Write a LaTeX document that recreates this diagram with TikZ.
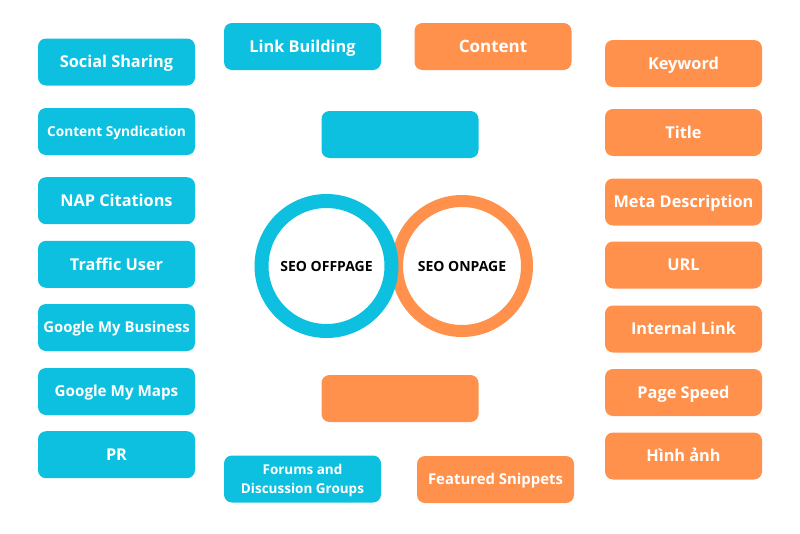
\documentclass[tikz,border=0pt]{standalone}
\usepackage{fontspec}
\setsansfont{Open Sans}
\usetikzlibrary{positioning}
\definecolor{offblue}{HTML}{0EC0DF}
\definecolor{onorange}{HTML}{FF914D}
\tikzset{
  tag/.style={rounded corners=8pt, minimum width=157pt, minimum height=47pt, inner sep=2pt, align=center, text=white, font=\sffamily\bfseries\fontsize{16.3}{20}\selectfont, text height=11.6pt, text depth=0pt},
  offtag/.style={tag, fill=offblue},
  ontag/.style={tag, fill=onorange},
  ring/.style={circle, minimum size=130pt, fill=white, font=\sffamily\bfseries\fontsize{14}{17}\selectfont, text height=10pt, text depth=0pt}
}
\begin{document}
\begin{tikzpicture}[x=1pt, y=-1pt]
\useasboundingbox (0,0) rectangle (800,533);
% rings
\node[ring, draw=onorange, line width=12pt] (onpage) at (462,266) {SEO ONPAGE};
\node[ring, draw=offblue, line width=14pt] (offpage) at (326.5,266) {SEO OFFPAGE};
% left column
\node[offtag] (social) at (116.5,62) {Social Sharing};
\node[offtag, font=\sffamily\bfseries\fontsize{13.7}{17}\selectfont, text height=9.8pt] (syndication) at (116.5,131.5) {Content Syndication};
\node[offtag] (nap) at (116.5,200.7) {NAP Citations};
\node[offtag] (traffic) at (116.5,264.3) {Traffic User};
\node[offtag, font=\sffamily\bfseries\fontsize{14.9}{18}\selectfont, text height=10.6pt] (mybusiness) at (116.5,327.5) {Google My Business};
\node[offtag, font=\sffamily\bfseries\fontsize{15.2}{18}\selectfont, text height=10.9pt] (mymaps) at (116.5,391.5) {Google My Maps};
\node[offtag] (pr) at (116.5,454.7) {PR};
% right column
\node[ontag] (keyword) at (683.5,63.5) {Keyword};
\node[ontag] (title) at (683.5,132.5) {Title};
\node[ontag] (meta) at (683.5,202) {Meta Description};
\node[ontag] (url) at (683.5,265) {URL};
\node[ontag] (internal) at (683.5,329) {Internal Link};
\node[ontag] (speed) at (683.5,392.5) {Page Speed};
\node[ontag] (image) at (683.5,456) {Hình ảnh};
% middle
\node[offtag] (linkbuilding) at (302.5,46.5) {Link Building};
\node[ontag, font=\sffamily\bfseries\fontsize{17}{20}\selectfont, text height=12.1pt] (content) at (493,46.5) {Content};
\node[offtag] (blank top) at (400,134.5) {};
\node[ontag] (blank bottom) at (400,398.5) {};
\node[offtag, font=\sffamily\bfseries\fontsize{13.5}{19}\selectfont, text height=28.6pt] (forums) at (302.5,479) {Forums and\\Discussion Groups};
\node[ontag, font=\sffamily\bfseries\fontsize{14.9}{18}\selectfont, text height=10.6pt] (snippets) at (495.5,479.5) {Featured Snippets};
\end{tikzpicture}
\end{document}
